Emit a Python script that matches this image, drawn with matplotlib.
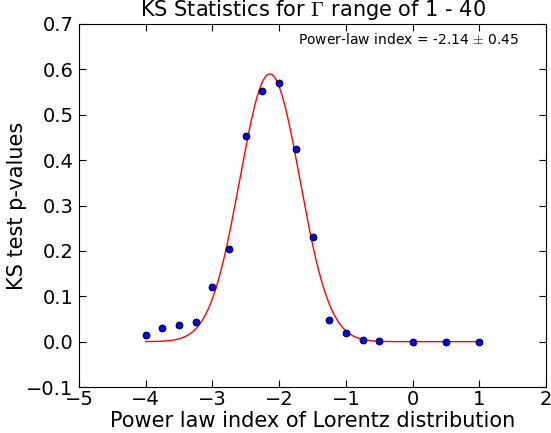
import numpy as np
import matplotlib
matplotlib.use('Agg')
import matplotlib.pyplot as plt

# KS test p-values vs power law index
index = [-4, -3.75, -3.5, -3.25, -3, -2.75, -2.5, -2.25, -2, -1.75, -1.5, -1.25, -1,
         -0.75, -0.5, 0, 0.5, 1]
pvals = [0.015, 0.030, 0.036, 0.043, 0.120, 0.204, 0.454, 0.553, 0.570, 0.424, 0.231,
         0.048, 0.020, 0.004, 0.001, 0.0, 0.0, 0.0]

# gaussian fit parameters
amp = 0.59
mu = -2.14
sigma = 0.45

plt.rcParams['mathtext.fontset'] = 'cm'
plt.rcParams['xtick.direction'] = 'in'
plt.rcParams['ytick.direction'] = 'in'
plt.rcParams['xtick.top'] = True
plt.rcParams['ytick.right'] = True
plt.rcParams['xtick.major.size'] = 5
plt.rcParams['ytick.major.size'] = 5

fig = plt.figure(figsize=(5.51, 4.33), dpi=100)
ax = fig.add_axes([0.1434, 0.1062, 0.8476, 0.8384])

xfit = np.linspace(index[0], index[-1], 300)
yfit = amp * np.exp(-(xfit - mu)**2 / (2 * sigma**2))
ax.plot(xfit, yfit, color='red', lw=1)
ax.plot(index, pvals, 'o', color='blue', mec='black', mew=0.6, ms=5)

ax.set_xlim(-5, 2)
ax.set_ylim(-0.1, 0.7)
ax.set_xticks(range(-5, 3))
ax.set_yticks(np.arange(-0.1, 0.71, 0.1))
ax.set_yticklabels(['%.1f' % v if v > -0.05 else '\u22120.1' for v in np.arange(-0.1, 0.71, 0.1)])
ax.tick_params(labelsize=14)
ax.tick_params(axis='x', pad=2.5)
ax.tick_params(axis='y', pad=4)

ax.set_title(r'KS Statistics for $\Gamma$ range of 1 - 40', fontsize=15)
ax.set_xlabel('Power law index of Lorentz distribution', fontsize=15)
ax.set_ylabel('KS test p-values', fontsize=15)
ax.xaxis.set_label_coords(0.5, -0.066)
ax.yaxis.set_label_coords(-0.111, 0.5)
ax.text(0.942, 0.956, r'Power-law index = -2.14 $\pm$ 0.45', transform=ax.transAxes,
        ha='right', va='center', fontsize=10)

fig.savefig('out.png', dpi=100)
